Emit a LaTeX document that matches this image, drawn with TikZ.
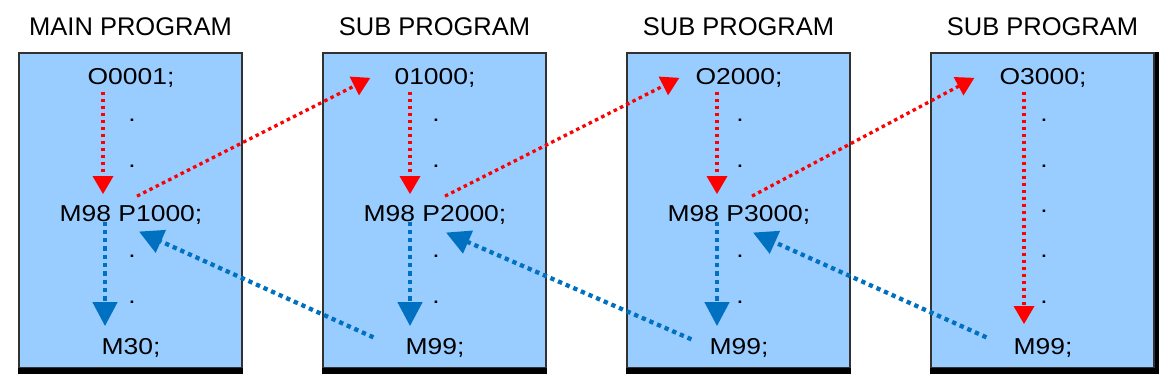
\documentclass[tikz,border=0pt]{standalone}
\usepackage{fontspec}
\setmainfont{Liberation Sans}
\newfontfamily\codefont[FakeStretch=1.15]{Liberation Sans}
\usetikzlibrary{arrows.meta,calc}

\definecolor{boxblue}{RGB}{153,204,255}
\definecolor{flowred}{RGB}{255,0,0}
\definecolor{flowblue}{RGB}{0,112,192}
\definecolor{edgegray}{RGB}{50,50,50}

\tikzset{
  progbox/.style={draw=edgegray, line width=1.2pt, fill=boxblue, minimum width=223pt, minimum height=315pt, inner sep=0pt},
  progtitle/.style={anchor=base, inner sep=0pt, font=\fontsize{25.5}{30}\selectfont},
  codeline/.style={anchor=base, inner sep=0pt, font=\codefont\fontsize{23}{27}\selectfont},
  gocall/.style={flowred, line width=3.3pt, dash pattern=on 3.5pt off 3.5pt, -{Triangle[width=20pt,length=18pt]}},
  goback/.style={flowblue, line width=4.3pt, dash pattern=on 4.3pt off 4pt, -{Triangle[width=24pt,length=24pt]}},
}

\begin{document}
\begin{tikzpicture}[x=1pt,y=-1pt]
\useasboundingbox (0,0) rectangle (1161,379);

% program boxes
\foreach \i/\x in {1/130.5,2/434.5,3/738.5,4/1042.5}{
    \node[progbox] (box\i) at (\x,210.5) {};
    \fill[black] ([yshift=1pt]box\i.south west) rectangle ([yshift=-5pt]box\i.south east);
}
\fill[black] (box4.north east) rectangle ([xshift=4pt,yshift=-5pt]box4.south east);

% titles
\node[progtitle] (t1) at ($(box1.north)+(0,-17)$) {MAIN PROGRAM};
\foreach \i in {2,3,4}
    \node[progtitle] (t\i) at ($(box\i.north)+(0,-17)$) {SUB PROGRAM};

% program lines
\node[codeline] (o1) at ($(box1.north)+(0.5,32)$) {O0001;};
\node[codeline] (m1) at ($(box1.north)+(0.5,169)$) {M98 P1000;};
\node[codeline] (e1) at ($(box1.north)+(0.5,302)$) {M30;};
\node[codeline] (o2) at ($(box2.north)+(0.5,32)$) {01000;};
\node[codeline] (m2) at ($(box2.north)+(0.5,169)$) {M98 P2000;};
\node[codeline] (e2) at ($(box2.north)+(0.5,302)$) {M99;};
\node[codeline] (o3) at ($(box3.north)+(0.5,32)$) {O2000;};
\node[codeline] (m3) at ($(box3.north)+(0.5,169)$) {M98 P3000;};
\node[codeline] (e3) at ($(box3.north)+(0.5,302)$) {M99;};
\node[codeline] (o4) at ($(box4.north)+(0.5,32)$) {O3000;};
\node[codeline] (e4) at ($(box4.north)+(0.5,302)$) {M99;};

% dots
\foreach \i in {1,2,3}
    \foreach \y in {69,115,205,251}
        \node[codeline] (d\i-\y) at ($(box\i.north)+(1.5,\y)$) {.};
\foreach \y in {69,115,160,205,251}
    \node[codeline] (d4-\y) at ($(box4.north)+(1.5,\y)$) {.};

% flow inside each program
\draw[gocall] ($(o1.south)+(-28,4)$) -- ($(m1.north)+(-28,-11)$);
\draw[goback] ($(m1.south)+(-26,-3)$) -- ($(e1.north)+(-26,-12)$);
\draw[gocall] ($(o2.south)+(-25,4)$) -- ($(m2.north)+(-25,-11)$);
\draw[goback] ($(m2.south)+(-25,-3)$) -- ($(e2.north)+(-25,-12)$);
\draw[gocall] ($(o3.south)+(-22,4)$) -- ($(m3.north)+(-22,-11)$);
\draw[goback] ($(m3.south)+(-22,-3)$) -- ($(e3.north)+(-22,-12)$);
\draw[gocall] ($(o4.south)+(-19,4)$) -- ($(e4.north)+(-19,-14)$);

% calls
\draw[gocall] ($(m1.north)+(6,-9)$) -- ($(o2.west)+(-24,0)$);
\draw[gocall] ($(m2.north)+(10,-9)$) -- ($(o3.west)+(-16,0)$);
\draw[gocall] ($(m3.north)+(13,-9)$) -- ($(o4.west)+(-25,0)$);

% returns
\draw[goback] ($(e2.west)+(-32,-10.5)$) -- ($(m1.south)+(8,7)$);
\draw[goback] ($(e3.west)+(-18,-8.5)$) -- ($(m2.south)+(11,8)$);
\draw[goback] ($(e4.west)+(-27,-10.5)$) -- ($(m3.south)+(14,8)$);
\end{tikzpicture}
\end{document}
